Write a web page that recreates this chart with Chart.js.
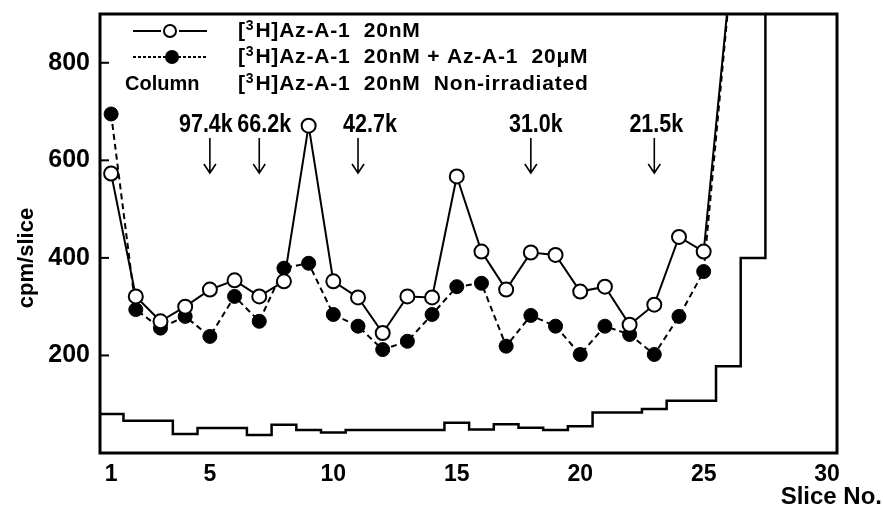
<!DOCTYPE html>
<html lang="en">
<head>
<meta charset="UTF-8">
<title>cpm/slice</title>
<script src="https://cdn.jsdelivr.net/npm/chart.js"></script>
<style>
  body { margin: 0; background: #fff; }
</style>
</head>
<body>
<canvas id="gelChart" width="883" height="510"></canvas>
<script>
// slices 1..26 for the two labelled series (26 runs off the top)
var slices = [1, 2, 3, 4, 5, 6, 7, 8, 9, 10, 11, 12, 13, 14, 15, 16, 17, 18, 19, 20, 21, 22, 23, 24, 25, 26];
var openVals = [573, 321, 270, 300, 335, 354, 321, 352, 671, 352, 319, 246, 321, 319, 567, 413, 335, 411, 406, 331, 341, 263, 304, 443, 413, 930];
var filledVals = [695, 294, 256, 280, 239, 321, 270, 379, 389, 284, 260, 212, 229, 284, 341, 348, 219, 282, 260, 202, 260, 243, 202, 280, 372, 920];
// non-irradiated column, one value per slice 1..30
var columnVals = [80, 66, 66, 39, 51, 51, 37, 58, 47, 42, 47, 47, 47, 47, 62, 48, 59, 52, 47, 55, 83, 83, 90, 107, 107, 178, 400, 1200, 1200, 1200];
var xTicks = [1, 5, 10, 15, 20, 25, 30];
var yTicks = [200, 400, 600, 800];
// molecular weight markers
var markerSlices = [5, 7, 11, 18, 23];
var markerLabels = ['97.4k', '66.2k', '42.7k', '31.0k', '21.5k'];
var legendTexts = ['H]Az-A-1  20nM', 'H]Az-A-1  20nM + Az-A-1  20\u03bcM', 'H]Az-A-1  20nM  Non-irradiated'];

var FONT = "'Liberation Sans', Arial, sans-serif";

function pts(vals) {
    return vals.map(function (v, i) { return { x: slices[i], y: v }; });
}

// column drawn as steps, with the outer bin edges
var columnPts = columnVals.map(function (v, i) { return { x: i + 1, y: v }; });
columnPts.unshift({ x: 0.5, y: columnVals[0] });
columnPts.push({ x: columnVals.length + 0.5, y: columnVals[columnVals.length - 1] });

function lastHidden(n, r) {
    return slices.map(function (s, i) { return i === n - 1 ? 0 : r; });
}

var paperPlugin = {
    id: 'paper',
    afterDraw: function (chart) {
        var ctx = chart.ctx, area = chart.chartArea;
        var xs = chart.scales.x, ys = chart.scales.y;
        ctx.save();
        ctx.strokeStyle = '#000';
        ctx.fillStyle = '#000';

        // frame
        ctx.lineWidth = 3;
        ctx.strokeRect(area.left, area.top, area.right - area.left, area.bottom - area.top);

        // inward ticks on the y axis
        ctx.lineWidth = 2;
        yTicks.forEach(function (v) {
            var y = ys.getPixelForValue(v);
            ctx.beginPath();
            ctx.moveTo(area.left, y);
            ctx.lineTo(area.left + 9, y);
            ctx.stroke();
        });

        // marker arrows, labels squeezed like the condensed original
        var nudge = [-4, 5, 12, 5, 2];
        ctx.lineWidth = 1.6;
        ctx.textAlign = 'center';
        ctx.textBaseline = 'middle';
        markerSlices.forEach(function (s, i) {
            var x = xs.getPixelForValue(s);
            var y0 = ys.getPixelForValue(646);
            var y1 = ys.getPixelForValue(574);
            ctx.beginPath();
            ctx.moveTo(x, y0);
            ctx.lineTo(x, y1);
            ctx.moveTo(x - 6, y1 - 9);
            ctx.lineTo(x, y1);
            ctx.lineTo(x + 6, y1 - 9);
            ctx.stroke();
            ctx.save();
            ctx.translate(x + nudge[i], ys.getPixelForValue(673));
            ctx.scale(0.86, 1);
            ctx.font = 'bold 25px ' + FONT;
            ctx.fillText(markerLabels[i], 0, 0);
            ctx.restore();
        });

        // legend
        var symX = 170, txtX = 238;
        var rows = [31, 57, 84];
        ctx.lineWidth = 2;
        ctx.beginPath();
        ctx.moveTo(133, rows[0]); ctx.lineTo(161, rows[0]);
        ctx.moveTo(179, rows[0]); ctx.lineTo(207, rows[0]);
        ctx.stroke();
        ctx.beginPath();
        ctx.arc(symX, rows[0], 6, 0, Math.PI * 2);
        ctx.fillStyle = '#fff';
        ctx.fill();
        ctx.stroke();
        ctx.fillStyle = '#000';
        ctx.setLineDash([3, 2]);
        ctx.beginPath();
        ctx.moveTo(133, rows[1]); ctx.lineTo(207, rows[1]);
        ctx.stroke();
        ctx.setLineDash([]);
        ctx.beginPath();
        ctx.arc(symX + 2, rows[1], 7, 0, Math.PI * 2);
        ctx.fill();

        ctx.textAlign = 'left';
        ctx.font = 'bold 20px ' + FONT;
        ctx.fillText('Column', 125, rows[2]);
        ctx.letterSpacing = '0.8px';
        rows.forEach(function (y, i) {
            ctx.font = 'bold 21px ' + FONT;
            ctx.fillText('[', txtX, y);
            var w = ctx.measureText('[').width;
            ctx.font = 'bold 14px ' + FONT;
            ctx.fillText('3', txtX + w, y - 5);
            var w2 = ctx.measureText('3').width;
            ctx.font = 'bold 21px ' + FONT;
            ctx.fillText(legendTexts[i], txtX + w + w2 + 1, y);
        });
        ctx.letterSpacing = '0px';

        // axis titles
        ctx.font = 'bold 24px ' + FONT;
        ctx.textAlign = 'right';
        ctx.fillText('Slice No.', 882, 497);
        ctx.font = 'bold 22px ' + FONT;
        ctx.translate(27, 258);
        ctx.rotate(-Math.PI / 2);
        ctx.textAlign = 'center';
        ctx.fillText('cpm/slice', 0, 0);
        ctx.restore();
    }
};

var ctx = document.getElementById('gelChart').getContext('2d');

var gelChart = new Chart(ctx, {
    type: 'line',
    data: {
        datasets: [{
            label: '[3H]Az-A-1 20nM',
            data: pts(openVals),
            borderColor: '#000',
            borderWidth: 2,
            backgroundColor: '#fff',
            pointBackgroundColor: '#fff',
            pointBorderColor: '#000',
            pointBorderWidth: 2,
            pointRadius: lastHidden(26, 7),
            fill: false,
            tension: 0
        }, {
            label: '[3H]Az-A-1 20nM + Az-A-1 20uM',
            data: pts(filledVals),
            borderColor: '#000',
            borderWidth: 2,
            borderDash: [6, 4],
            backgroundColor: '#000',
            pointBackgroundColor: '#000',
            pointBorderColor: '#000',
            pointBorderWidth: 1,
            pointRadius: lastHidden(26, 7),
            fill: false,
            tension: 0
        }, {
            label: 'Column',
            data: columnPts,
            borderColor: '#000',
            borderWidth: 2.5,
            pointRadius: 0,
            stepped: 'middle',
            fill: false
        }]
    },
    options: {
        responsive: false,
        animation: false,
        layout: { padding: { top: 14, right: 46, left: 0, bottom: 0 } },
        plugins: {
            legend: { display: false },
            tooltip: { enabled: false }
        },
        scales: {
            x: {
                type: 'linear',
                min: 0.55,
                max: 30.4,
                grid: { display: false, drawTicks: false },
                border: { display: false },
                afterBuildTicks: function (scale) {
                    scale.ticks = xTicks.map(function (v) { return { value: v }; });
                },
                afterFit: function (scale) {
                    scale.height = 57;
                    scale.paddingLeft = 0;
                    scale.paddingRight = 0;
                },
                ticks: {
                    color: '#000',
                    padding: 8,
                    maxRotation: 0,
                    font: { family: FONT, size: 23, weight: 'bold' }
                }
            },
            y: {
                min: 0,
                max: 900,
                grid: { display: false, drawTicks: false },
                border: { display: false },
                afterBuildTicks: function (scale) {
                    scale.ticks = yTicks.map(function (v) { return { value: v }; });
                },
                afterFit: function (scale) {
                    scale.width = 100;
                    scale.paddingTop = 0;
                    scale.paddingBottom = 0;
                },
                ticks: {
                    color: '#000',
                    padding: 10,
                    font: { family: FONT, size: 25, weight: 'bold' }
                }
            }
        }
    },
    plugins: [paperPlugin]
});
</script>
</body>
</html>
